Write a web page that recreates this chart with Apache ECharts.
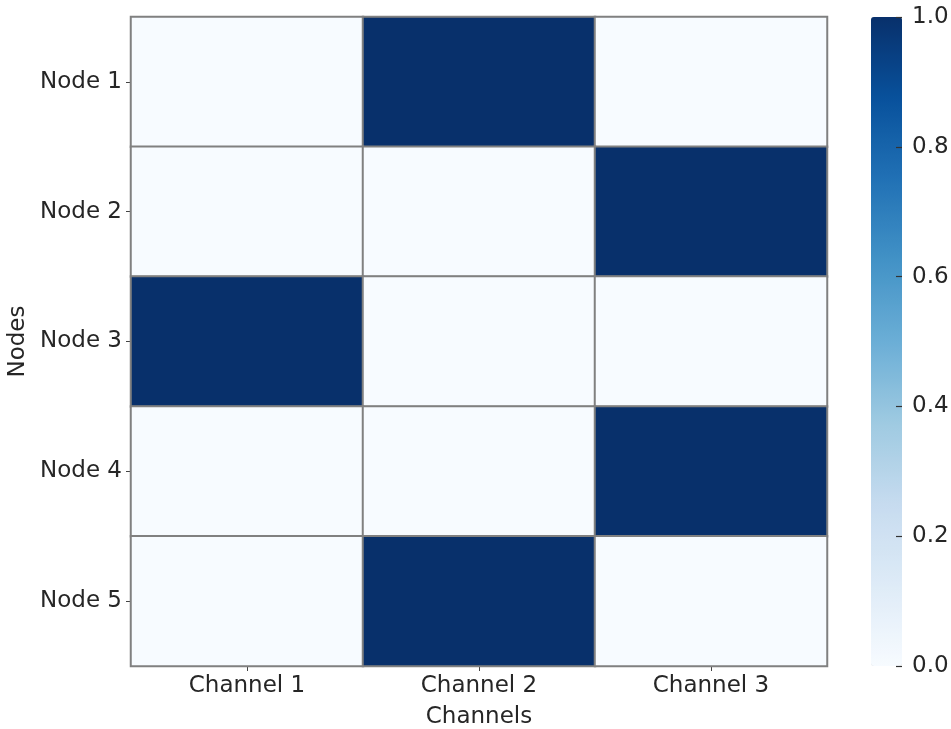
<!DOCTYPE html>
<html>
<head>
<meta charset="utf-8">
<script src="https://cdn.jsdelivr.net/npm/echarts@6/dist/echarts.min.js"></script>
<style>
  html, body { margin: 0; padding: 0; background: #fff; }
  #chart { width: 951px; height: 729px; }
</style>
</head>
<body>
<div id="chart"></div>
<script>
// Channel assignment per node (1 = channel used by the node)
const channels = ['Channel 1', 'Channel 2', 'Channel 3'];
const nodes = ['Node 1', 'Node 2', 'Node 3', 'Node 4', 'Node 5'];
const node1 = [0, 1, 0];
const node2 = [0, 0, 1];
const node3 = [1, 0, 0];
const node4 = [0, 0, 1];
const node5 = [0, 1, 0];
const colorbarTicks = [0, 0.2, 0.4, 0.6, 0.8, 1.0];

const rows = [node1, node2, node3, node4, node5];
const cells = [];
rows.forEach((row, r) => row.forEach((v, c) => cells.push([c, r, v])));

// Blues colour ramp
const blues = ['#f7fbff', '#deebf7', '#c6dbef', '#9ecae1', '#6baed6',
               '#4292c6', '#2171b5', '#08519c', '#08306b'];

const font = 'DejaVu Sans';
const textColor = '#262626';
const fs = 23;

const chart = echarts.init(document.getElementById('chart'));
chart.setOption({
  animation: false,
  backgroundColor: '#fff',
  textStyle: { fontFamily: font, color: textColor },
  grid: [
    { left: 131, top: 17, width: 696, height: 649, containLabel: false, outerBoundsMode: 'none' },
    { left: 871, top: 17, width: 31, height: 649, containLabel: false, outerBoundsMode: 'none' }
  ],
  xAxis: [
    {
      gridIndex: 0,
      type: 'category',
      data: channels,
      name: 'Channels',
      nameLocation: 'middle',
      nameGap: 40,
      nameTextStyle: { fontFamily: font, fontSize: fs, color: textColor },
      axisLine: { show: true, lineStyle: { color: '#bdbdbd', width: 1.5 } },
      axisTick: { show: true, alignWithLabel: true, length: 5, lineStyle: { color: '#444' } },
      axisLabel: { fontFamily: font, fontSize: fs, color: textColor, margin: 9 },
      splitLine: { show: false }
    },
    {
      gridIndex: 1, type: 'value', show: false, min: 0, max: 1
    }
  ],
  yAxis: [
    {
      gridIndex: 0,
      type: 'category',
      data: nodes,
      inverse: true,
      name: 'Nodes',
      nameLocation: 'middle',
      nameGap: 91,
      nameRotate: 90,
      nameTextStyle: { fontFamily: font, fontSize: fs, color: textColor },
      axisLine: { show: true, lineStyle: { color: '#a0a0a0', width: 1.5 } },
      axisTick: { show: true, alignWithLabel: true, length: 5, lineStyle: { color: '#444' } },
      axisLabel: { fontFamily: font, fontSize: fs, color: textColor, margin: 9 },
      splitLine: { show: false }
    },
    {
      // colour bar scale, on the right edge of the bar
      gridIndex: 1,
      type: 'value',
      position: 'right',
      min: 0,
      max: 1,
      interval: 0.2,
      axisLine: { show: false, onZero: false },
      axisTick: { show: true, inside: true, length: 6, lineStyle: { color: '#333', width: 1.2 } },
      axisLabel: {
        fontFamily: font, fontSize: fs, color: textColor, margin: 10,
        formatter: v => colorbarTicks.includes(+v.toFixed(1)) ? v.toFixed(1) : ''
      },
      splitLine: { show: false },
      z: 10
    }
  ],
  visualMap: {
    type: 'continuous',
    min: 0,
    max: 1,
    seriesIndex: 0,
    orient: 'vertical',
    left: 871,
    top: 17,
    itemWidth: 31,
    itemHeight: 649,
    padding: 0,
    calculable: false,
    showLabel: false,
    text: null,
    z: 2,
    inRange: { color: blues }
  },
  series: [
    {
      type: 'heatmap',
      xAxisIndex: 0,
      yAxisIndex: 0,
      data: cells,
      itemStyle: { borderColor: '#808080', borderWidth: 2 },
      emphasis: { disabled: true }
    }
  ]
});
</script>
</body>
</html>
